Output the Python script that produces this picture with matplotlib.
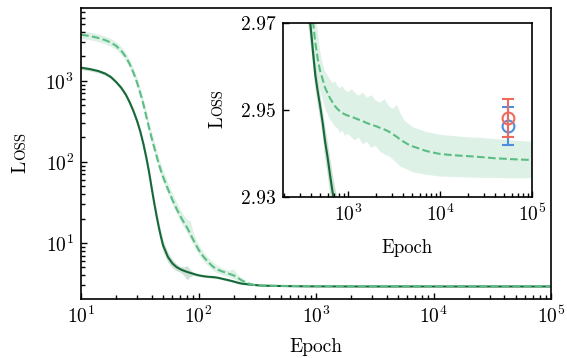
import numpy as np
import matplotlib
matplotlib.use("Agg")
import matplotlib.pyplot as plt
from matplotlib.ticker import LogLocator, NullFormatter, FixedLocator, FormatStrFormatter

plt.rcParams.update({
    "font.family": "serif",
    "font.serif": ["cmr10"],
    "mathtext.fontset": "cm",
    "axes.formatter.use_mathtext": True,
    "axes.unicode_minus": False,
})

# ---------------- data ----------------
epochs = [10, 12, 14, 16, 18, 20, 22, 24, 26, 28,
          30, 32, 34, 36, 38, 40, 42, 44, 46, 48,
          50, 55, 60, 65, 70, 75, 80, 85, 90, 95,
          100, 110, 120, 133, 145, 160, 180, 198, 215, 230,
          260, 290, 320, 350, 380, 417, 440, 470, 496, 530,
          560, 600, 637, 680, 720, 770, 818, 870, 920, 1000,
          1100, 1200, 1300, 1455, 1600, 1800, 2000, 2230, 2500, 2800,
          3090, 3400, 3700, 4100, 4500, 5100, 6000, 7000, 8500, 10000,
          14000, 20000, 27000, 40000, 60000, 100000]

solid_mean = [1450, 1390, 1320, 1230, 1110, 960, 820, 680, 540, 420,
              320, 235, 165, 112, 74, 47, 31, 21.5, 15.5, 11.8,
              9.3, 6.7, 5.6, 5.05, 4.75, 4.55, 4.4, 4.28, 4.18, 4.08,
              4.0, 3.9, 3.84, 3.8, 3.74, 3.62, 3.48, 3.36, 3.25, 3.17,
              3.1, 3.05, 3.01, 2.982, 2.972, 2.963, 2.958, 2.954, 2.951, 2.947,
              2.943, 2.939, 2.935, 2.931, 2.928, 2.925, 2.923, 2.921, 2.920, 2.918,
              2.917, 2.916, 2.915, 2.914, 2.913, 2.912, 2.912, 2.911, 2.911, 2.910,
              2.910, 2.910, 2.910, 2.910, 2.910, 2.910, 2.910, 2.910, 2.910, 2.910,
              2.909, 2.909, 2.909, 2.909, 2.909, 2.909]

solid_spread = [0.05, 0.05, 0.05, 0.05, 0.05, 0.05, 0.06, 0.06, 0.07, 0.08,
                0.09, 0.10, 0.11, 0.12, 0.13, 0.14, 0.15, 0.16, 0.16, 0.16,
                0.16, 0.14, 0.12, 0.10, 0.08, 0.12, 0.20, 0.10, 0.05, 0.04,
                0.03, 0.03, 0.03, 0.03, 0.03, 0.03, 0.03, 0.03, 0.03, 0.03,
                0.02, 0.012, 0.006, 0.003, 0.0015, 0.001, 0.001, 0.001, 0.001, 0.001,
                0.0012, 0.0013, 0.0014, 0.0015, 0.0015, 0.0015, 0.0015, 0.0015, 0.0015, 0.0015,
                0.0015, 0.0015, 0.0015, 0.0015, 0.0015, 0.0015, 0.0015, 0.0015, 0.0015, 0.0015,
                0.0015, 0.0015, 0.0015, 0.0015, 0.0015, 0.0015, 0.0015, 0.0015, 0.0015, 0.0015,
                0.0015, 0.0015, 0.0015, 0.0015, 0.0015, 0.0015]

dashed_mean = [3700, 3560, 3380, 3180, 2960, 2680, 2350, 1980, 1600, 1250,
               950, 700, 510, 360, 260, 195, 150, 118, 93, 77,
               65, 46, 34, 26.5, 21.5, 18, 15.5, 13, 11, 9.5,
               8.3, 6.8, 5.9, 5.1, 4.7, 4.45, 4.2, 4.0, 3.75, 3.5,
               3.2, 3.06, 3.0, 2.985, 2.976, 2.970, 2.9655, 2.9615, 2.959, 2.957,
               2.9552, 2.9538, 2.9527, 2.9517, 2.9509, 2.9502, 2.9497, 2.9493, 2.9490, 2.9487,
               2.9484, 2.9481, 2.9478, 2.9474, 2.9470, 2.9466, 2.9463, 2.9459, 2.9455, 2.9450,
               2.9444, 2.9438, 2.9432, 2.9426, 2.9421, 2.9416, 2.9411, 2.9406, 2.9402, 2.9399,
               2.9396, 2.9394, 2.9392, 2.9389, 2.9387, 2.9385]

dashed_hi = [4150, 3980, 3780, 3560, 3320, 3010, 2640, 2230, 1810, 1420,
             1090, 810, 590, 420, 305, 230, 178, 140, 111, 92,
             78, 55, 41, 32, 26, 22, 19.5, 19, 13.5, 11.2,
             9.6, 7.8, 6.7, 5.8, 5.3, 4.9, 4.6, 4.8, 4.1, 3.75,
             3.35, 3.15, 3.06, 3.0, 2.985, 2.976, 2.972, 2.968, 2.9635, 2.9605,
             2.9590, 2.9580, 2.9570, 2.9562, 2.9566, 2.9555, 2.9550, 2.9556, 2.9546, 2.9541,
             2.9548, 2.9539, 2.9533, 2.9540, 2.9528, 2.9534, 2.9522, 2.9517, 2.9525, 2.9508,
             2.9503, 2.9512, 2.9493, 2.9476, 2.9469, 2.9460, 2.9455, 2.9450, 2.9446, 2.9443,
             2.9440, 2.9437, 2.9436, 2.9433, 2.9430, 2.9427]

dashed_lo = [3330, 3200, 3040, 2860, 2660, 2410, 2110, 1780, 1440, 1120,
             850, 625, 455, 320, 230, 172, 132, 103, 81, 67,
             56, 40, 29.5, 23, 18.6, 15.6, 13.4, 11.3, 9.6, 8.3,
             7.3, 6.0, 5.3, 4.6, 4.25, 4.05, 3.85, 3.65, 3.45, 3.28,
             3.08, 3.0, 2.985, 2.978, 2.970, 2.9645, 2.9600, 2.9565, 2.9545, 2.9525,
             2.9505, 2.9490, 2.9478, 2.9470, 2.9462, 2.9458, 2.9447, 2.9452, 2.9441, 2.9445,
             2.9436, 2.9430, 2.9437, 2.9421, 2.9427, 2.9413, 2.9418, 2.9404, 2.9398, 2.9393,
             2.9386, 2.9378, 2.9370, 2.9366, 2.9362, 2.9357, 2.9354, 2.9351, 2.9349, 2.9347,
             2.9346, 2.9345, 2.9344, 2.9344, 2.9343, 2.9343]

# final-point markers with error bars (inset)
pt_epoch = 55000
red_val, red_lo, red_hi = 2.9481, 2.9438, 2.9525
blue_val, blue_lo, blue_hi = 2.9463, 2.9420, 2.9507

dark_green = "#17693a"
light_green = "#5bbd84"
red = "#ee6b5b"
blue = "#4a8fdd"

E = np.array(epochs, float)
S = np.array(solid_mean)
S_sp = np.array(solid_spread)
S_lo, S_hi = S * (1 - S_sp), S * (1 + S_sp)
D = np.array(dashed_mean)
D_lo = np.array(dashed_lo)
D_hi = np.array(dashed_hi)

W, H = 567, 358
fig = plt.figure(figsize=(W / 100, H / 100), dpi=100)

ax = fig.add_axes([81 / W, 1 - 299 / H, (551 - 81) / W, (299 - 8) / H])
ins = fig.add_axes([283 / W, 1 - 197 / H, (532 - 283) / W, (197 - 23) / H])


def draw(a):
    a.fill_between(E, D_lo, D_hi, color=light_green, alpha=0.2, lw=0)
    a.fill_between(E, S_lo, S_hi, color=dark_green, alpha=0.2, lw=0)
    a.plot(E, S, color=dark_green, lw=1.5, solid_capstyle="butt")
    a.plot(E, D, color=light_green, lw=1.5, ls="--")


draw(ax)
ax.set_xscale("log")
ax.set_yscale("log")
ax.set_xlim(10, 1e5)
ax.set_ylim(2.04, 7900)

draw(ins)
ins.set_xscale("log")
ins.set_xlim(196, 1e5)
ins.set_ylim(2.93, 2.97)
ins.errorbar([pt_epoch], [blue_val], yerr=[[blue_val - blue_lo], [blue_hi - blue_val]],
             fmt="o", mfc="none", mec=blue, ecolor=blue, ms=8.5, mew=1.5, elinewidth=1.5,
             capsize=4, capthick=1.5, zorder=5)
ins.errorbar([pt_epoch], [red_val], yerr=[[red_val - red_lo], [red_hi - red_val]],
             fmt="o", mfc="none", mec=red, ecolor=red, ms=8.5, mew=1.5, elinewidth=1.5,
             capsize=4, capthick=1.5, zorder=6)
ins.yaxis.set_major_locator(FixedLocator([2.93, 2.95, 2.97]))
ins.yaxis.set_major_formatter(FormatStrFormatter("%.2f"))

for a in (ax, ins):
    for s in a.spines.values():
        s.set_linewidth(1.2)
    a.tick_params(which="both", direction="in", top=False, right=False, width=1.0)
    a.tick_params(which="major", length=4.5, labelsize=14, pad=5)
    a.tick_params(which="minor", length=3)
    a.xaxis.set_major_locator(LogLocator(base=10, numticks=20))
    a.xaxis.set_minor_locator(LogLocator(base=10, subs=np.arange(2, 10), numticks=20))
    a.xaxis.set_minor_formatter(NullFormatter())
ax.yaxis.set_minor_locator(LogLocator(base=10, subs=np.arange(2, 10), numticks=20))
ax.yaxis.set_minor_formatter(NullFormatter())
ins.yaxis.set_minor_locator(FixedLocator([]))

ax.set_xlabel("Epoch", fontsize=14, labelpad=8)
ins.set_xlabel("Epoch", fontsize=13.5, labelpad=10)


def smallcaps_ylabel(x_px, yc_px, fs):
    t1 = fig.text(x_px / W, 0.5, "L", rotation=90, rotation_mode="anchor",
                  ha="left", va="baseline", fontsize=fs)
    t2 = fig.text(x_px / W, 0.5, "OSS", rotation=90, rotation_mode="anchor",
                  ha="left", va="baseline", fontsize=fs * 0.76)
    fig.canvas.draw()
    r = fig.canvas.get_renderer()
    h1 = t1.get_window_extent(r).height
    h2 = t2.get_window_extent(r).height
    y0 = (H - yc_px) - (h1 + h2) / 2
    t1.set_y(y0 / H)
    t2.set_y((y0 + h1) / H)


smallcaps_ylabel(25, 152.5, 14)
smallcaps_ylabel(222, 109, 13.5)

fig.savefig("out.png", dpi=100)
